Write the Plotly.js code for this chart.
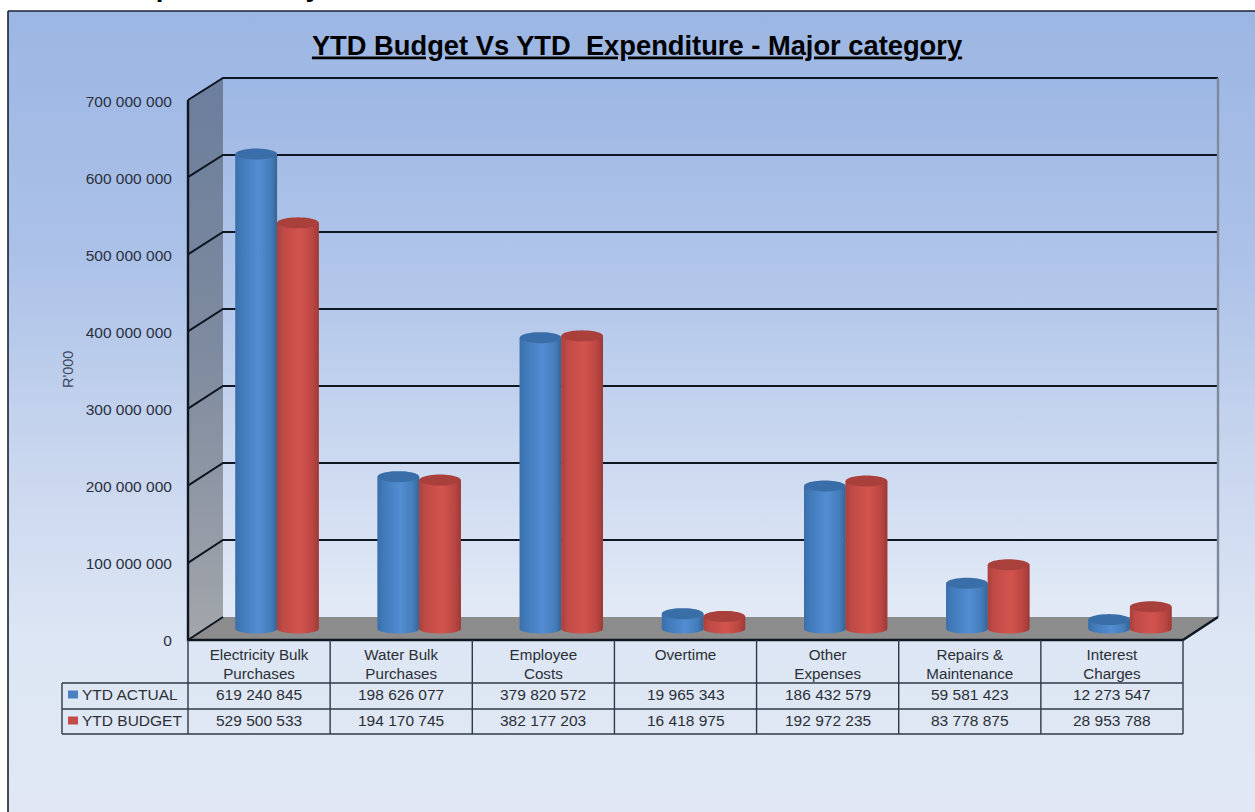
<!DOCTYPE html>
<html>
<head>
<meta charset="utf-8">
<script src="https://cdn.plot.ly/plotly-3.0.1.min.js"></script>
<style>html,body{margin:0;padding:0;background:#fff;overflow:hidden}#chart{width:1255px;height:812px}</style>
</head>
<body>
<div id="chart"></div>
<script>
// ---- chart data ----
const categories = ["Electricity Bulk<br>Purchases","Water Bulk<br>Purchases","Employee<br>Costs","Overtime","Other<br>Expenses","Repairs &<br>Maintenance","Interest<br>Charges"];
const ytdActual = [619240845,198626077,379820572,19965343,186432579,59581423,12273547];
const ytdBudget = [529500533,194170745,382177203,16418975,192972235,83778875,28953788];
const seriesNames = ["YTD ACTUAL","YTD BUDGET"];
const tickValues = [0,100000000,200000000,300000000,400000000,500000000,600000000,700000000];
const chartTitle = "<u>YTD Budget Vs YTD \u00a0Expenditure - Major category</u>";
const pageHeading = "<b>Chart 8 - Expenditure by source</b>";
const axisTitle = "R'000";

// ---- geometry of the 3-D box, in page pixels ----
const W=1255,H=812;
const FL=188,FR=1183,FB=640,FT=100;   // front plane
const BL=223,BR=1218,BB=617,BT=78;    // back wall
const LABEL_TOP=102,LABEL_BOT=640.5;  // tick labels of the value axis
const frontY=v=>FB-(FB-FT)*v/7e8, backY=v=>BB-(BB-BT)*v/7e8;
const BASE=629,PXM=0.767e-6;          // cylinders' plane: zero line and px per rand
const PLANE_L=206,PLANE_R=1201;
const yLo=-20e6,yHi=720e6;
const barW=0.293;
const capRy=5.5/PXM, baseRy=4.5/PXM;
const ink="#2a3040", grid="#0e1622", tableLine="#2f3847";
const fmt=n=>n.toLocaleString("en-US").replace(/,/g," ");
const FONT="Liberation Sans, Arial, sans-serif";

const traces=[];
// page frame background
const bgStops=[[0,"#9cb6e3"],[0.3,"#abc1e8"],[0.5,"#c3d2ed"],[0.78,"#dde6f4"],[1,"#e1e8f4"]];
traces.push({type:"scatter",xaxis:"x",yaxis:"y",mode:"lines",x:[8,1262,1262,8,8],y:[11,11,820,820,11],fill:"toself",
  fillgradient:{type:"vertical",colorscale:bgStops,start:11,stop:820},line:{color:"#1b2230",width:1.6},hoverinfo:"skip",showlegend:false});
// back wall
traces.push({type:"scatter",xaxis:"x",yaxis:"y",mode:"none",x:[BL,BR,BR,BL,BL],y:[BT,BT,BB,BB,BT],fill:"toself",
  fillgradient:{type:"vertical",colorscale:[[0,"#9db7e4"],[0.4,"#b3c7ea"],[1,"#e3eaf6"]],start:BT,stop:BB},hoverinfo:"skip",showlegend:false});
// side wall
traces.push({type:"scatter",xaxis:"x",yaxis:"y",mode:"none",x:[FL,BL,BL,FL,FL],y:[FT,BT,BB,FB,FT],fill:"toself",
  fillgradient:{type:"vertical",colorscale:[[0,"#6b7e9c"],[0.5,"#7f8b9f"],[1,"#a3a6ab"]],start:BT,stop:FB},hoverinfo:"skip",showlegend:false});
// floor
traces.push({type:"scatter",xaxis:"x",yaxis:"y",mode:"none",x:[FL,BL,BR,FR,FL],y:[FB,BB,BB,FB,FB],fill:"toself",fillcolor:"#8c8c8c",hoverinfo:"skip",showlegend:false});
// grid lines on side wall and back wall
const gx=[],gy=[];
tickValues.forEach(v=>{ gx.push(FL,BL); gy.push(frontY(v),backY(v)); if(v>0){gx.push(BR);gy.push(backY(v));} gx.push(null);gy.push(null); });
traces.push({type:"scatter",xaxis:"x",yaxis:"y",mode:"lines",x:gx,y:gy,line:{color:grid,width:2},hoverinfo:"skip",showlegend:false});
// right wall edge
traces.push({type:"scatter",xaxis:"x",yaxis:"y",mode:"lines",x:[BR,BR],y:[BT,BB],line:{color:"#7e8a9b",width:2.4},hoverinfo:"skip",showlegend:false});
// front-left edge, bottom edge, right floor edge
traces.push({type:"scatter",xaxis:"x",yaxis:"y",mode:"lines",x:[FL,FL,FR,BR],y:[FT,FB,FB,BB],line:{color:grid,width:2.4},hoverinfo:"skip",showlegend:false});

// real bars beneath the cylinder shading
const idx=categories.map((_,i)=>i);
const blueBar="#4a80c0", redBar="#c44c48";
traces.push({type:"bar",xaxis:"x2",yaxis:"y2",name:seriesNames[0],x:idx,y:ytdActual,width:barW,offset:-barW,marker:{color:blueBar,line:{width:0}},showlegend:false,hovertemplate:"%{y:,d}<extra>"+seriesNames[0]+"</extra>"});
traces.push({type:"bar",xaxis:"x2",yaxis:"y2",name:seriesNames[1],x:idx,y:ytdBudget,width:barW,offset:0,marker:{color:redBar,line:{width:0}},showlegend:false,hovertemplate:"%{y:,d}<extra>"+seriesNames[1]+"</extra>"});

// cylinder bodies and caps computed from the values
const blueScale=[[0,"#3b6ea8"],[0.12,"#4079b8"],[0.55,"#538dd2"],[0.85,"#457dbb"],[1,"#366496"]];
const redScale=[[0,"#a9413d"],[0.14,"#c04a46"],[0.55,"#d3544f"],[0.85,"#bb4642"],[1,"#9b3a36"]];
const angles=[];for(let a=0;a<=24;a++)angles.push(Math.PI*a/24);
function cylinder(i,v,left,scale,cap){
  const x0=i+left, x1=x0+barW, xc=x0+barW/2, rx=barW/2;
  const bx=[],by=[];
  angles.forEach(t=>{bx.push(xc-rx*Math.cos(t));by.push(-baseRy*Math.sin(t));});
  bx.push(x1,x0,x0);by.push(v,v,0);
  traces.push({type:"scatter",xaxis:"x2",yaxis:"y2",mode:"none",x:bx,y:by,fill:"toself",
    fillgradient:{type:"horizontal",colorscale:scale,start:x0,stop:x1},hoverinfo:"skip",showlegend:false});
  const cx=[],cy=[];
  angles.forEach(t=>{cx.push(xc-rx*Math.cos(t));cy.push(v+capRy*Math.sin(t));});
  angles.forEach(t=>{cx.push(xc+rx*Math.cos(t));cy.push(v-capRy*Math.sin(t));});
  traces.push({type:"scatter",xaxis:"x2",yaxis:"y2",mode:"none",x:cx,y:cy,fill:"toself",fillcolor:cap,hoverinfo:"skip",showlegend:false});
}
idx.forEach(i=>{
  cylinder(i,ytdActual[i],-barW,blueScale,"#3a6ea8");
  cylinder(i,ytdBudget[i],0,redScale,"#a9403c");
});

// carrier of the labelled axes on the front plane
traces.push({type:"scatter",xaxis:"x3",yaxis:"y3",mode:"markers",x:idx,y:idx.map(()=>0),marker:{opacity:0,size:1},hoverinfo:"skip",showlegend:false});

const dom=(a,b,L)=>[a/L,b/L];
const yDom=(top,bot)=>[(H-bot)/H,(H-top)/H];
const layout={
  width:W,height:H,margin:{l:0,r:0,t:0,b:0},paper_bgcolor:"#ffffff",plot_bgcolor:"rgba(0,0,0,0)",
  separators:". ",font:{family:FONT,color:ink,size:15.5},showlegend:false,barmode:"overlay",
  title:{text:chartTitle,font:{family:FONT,size:27.3,color:"#000",weight:700},x:637/W,xanchor:"center",xref:"paper",y:1-45/H,yanchor:"middle",yref:"paper"},
  xaxis:{domain:[0,1],range:[0,W],visible:false,anchor:"y",fixedrange:true},
  yaxis:{domain:[0,1],range:[H,0],visible:false,anchor:"x",fixedrange:true},
  xaxis2:{domain:dom(PLANE_L,PLANE_R,W),range:[-0.5,6.5],visible:false,anchor:"y2",fixedrange:true},
  yaxis2:{domain:yDom(BASE-yHi*PXM,BASE-yLo*PXM),range:[yLo,yHi],visible:false,anchor:"x2",fixedrange:true},
  xaxis3:{domain:dom(FL,FR,W),range:[-0.5,6.5],anchor:"y3",tickmode:"array",tickvals:idx,ticktext:categories,showgrid:false,zeroline:false,showline:false,
    ticks:"",ticklabelstandoff:3,tickangle:0,tickfont:{family:FONT,size:15.2,color:"#2b2f36"},fixedrange:true},
  yaxis3:{domain:yDom(LABEL_TOP,LABEL_BOT),range:[0,7e8],anchor:"x3",tickmode:"array",tickvals:tickValues,tickformat:",d",showgrid:false,zeroline:false,showline:false,
    ticks:"outside",ticklen:12,tickcolor:"rgba(0,0,0,0)",tickfont:{family:FONT,size:15.5,color:ink},fixedrange:true},
  shapes:[],annotations:[]
};
// data table rules
const rowY=[683,709,734], tableLeft=62;
const ln=(x0,y0,x1,y1)=>({type:"line",xref:"x",yref:"y",x0,y0,x1,y1,line:{color:tableLine,width:1.4},layer:"above"});
rowY.forEach(y=>layout.shapes.push(ln(tableLeft,y,FR,y)));
layout.shapes.push(ln(tableLeft,rowY[0],tableLeft,rowY[2]));
for(let i=0;i<=categories.length;i++){const x=FL+(FR-FL)*i/categories.length;layout.shapes.push(ln(x,FB,x,rowY[2]));}
// legend keys + table text
const rowMid=[695,721], keyCol=[blueBar,redBar], rows=[ytdActual,ytdBudget];
rows.forEach((vals,r)=>{
  layout.shapes.push({type:"rect",xref:"x",yref:"y",x0:68,x1:78,y0:rowMid[r]-4.5,y1:rowMid[r]+3.5,fillcolor:keyCol[r],line:{width:0},layer:"above"});
  layout.annotations.push({xref:"x",yref:"y",x:80,y:rowMid[r]-1,xanchor:"left",yanchor:"middle",showarrow:false,text:seriesNames[r],font:{family:FONT,size:15.5,color:"#2b2f36"}});
  vals.forEach((v,i)=>layout.annotations.push({xref:"x3",yref:"y",x:i,y:rowMid[r]-1,xanchor:"center",yanchor:"middle",showarrow:false,text:fmt(v),font:{family:FONT,size:15.5,color:"#2b2f36"}}));
});
layout.annotations.push({xref:"x",yref:"y",x:68,y:370,textangle:-90,showarrow:false,text:axisTitle,font:{family:FONT,size:14.5,color:"#3a465a"}});
layout.annotations.push({xref:"paper",yref:"paper",x:1/W,xanchor:"left",y:1-4.5/H,yanchor:"bottom",showarrow:false,text:pageHeading,font:{family:FONT,size:27.5,color:"#000"}});

Plotly.newPlot("chart",traces,layout,{displayModeBar:false,responsive:false});
</script>
</body>
</html>
